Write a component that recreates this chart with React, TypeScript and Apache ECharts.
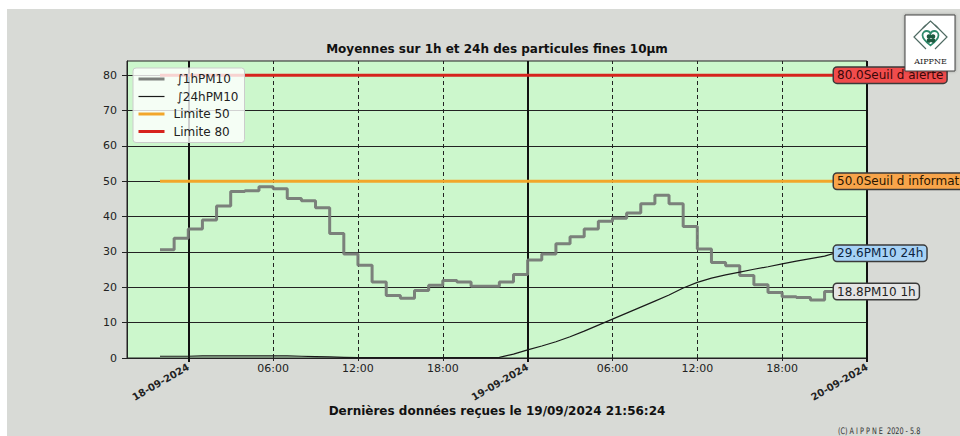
import React, { useEffect, useRef } from 'react';
import * as echarts from 'echarts';

const HOUR = 3600 * 1000;
const FIRST_HOUR = Date.UTC(2024, 8, 17, 22, 0);
const LAST_TIME = Date.UTC(2024, 8, 19, 21, 40);
const X_MIN = Date.UTC(2024, 8, 17, 19, 40);
const X_MAX = Date.UTC(2024, 8, 20, 0, 0);

const dayTicks = [Date.UTC(2024, 8, 18), Date.UTC(2024, 8, 19), Date.UTC(2024, 8, 20)];
const hourTicks = [
  Date.UTC(2024, 8, 18, 6), Date.UTC(2024, 8, 18, 12), Date.UTC(2024, 8, 18, 18),
  Date.UTC(2024, 8, 19, 6), Date.UTC(2024, 8, 19, 12), Date.UTC(2024, 8, 19, 18),
];
const yTicks = [0, 10, 20, 30, 40, 50, 60, 70, 80];

// hourly values from 17-09 22:00 to 19-09 21:00
const pm10_1h = [
  30.6, 33.9, 36.5, 39.0, 43.0, 47.1, 47.3, 48.4, 47.9, 45.1, 44.5, 42.5,
  35.2, 29.4, 26.2, 21.5, 17.7, 16.9, 19.1, 20.6, 21.9, 21.5, 20.3, 20.3,
  21.5, 23.6, 27.7, 29.4, 32.3, 34.3, 36.5, 38.7, 39.5, 41.0, 43.6, 46.0,
  43.6, 37.2, 30.8, 27.0, 26.1, 23.3, 20.7, 18.5, 17.3, 17.1, 16.4, 18.8,
];
const pm10_24h = [
  0.5, 0.5, 0.5, 0.6, 0.6, 0.6, 0.6, 0.6, 0.6, 0.6, 0.5, 0.4,
  0.3, 0.2, 0.1, 0.1, 0.1, 0.1, 0.1, 0.1, 0.1, 0.1, 0.1, 0.1,
  0.2, 1.1, 2.3, 3.4, 4.6, 6.0, 7.6, 9.3, 11.0, 12.7, 14.4, 16.1,
  17.8, 19.8, 21.4, 22.6, 23.5, 24.3, 25.1, 25.8, 26.6, 27.4, 28.1, 28.8,
];
const last1h = 18.8;
const last24h = 29.6;
const limitInfo = 50;
const limitAlert = 80;

const HEART_D =
  'M10 18 C 3 12.5, 0 9, 0 5.2 C 0 2, 2.6 0, 5.4 0 C 7.6 0, 9.2 1.4, 10 3.2 C 10.8 1.4, 12.4 0, 14.6 0 C 17.4 0, 20 2, 20 5.2 C 20 9, 17 12.5, 10 18 Z';
let heartRegistered = false;

const pad = (n: number) => (n < 10 ? '0' + n : '' + n);
const fmtHour = (v: number) => {
  const d = new Date(v);
  return pad(d.getUTCHours()) + ':' + pad(d.getUTCMinutes());
};
const fmtDay = (v: number) => {
  const d = new Date(v);
  return pad(d.getUTCDate()) + '-' + pad(d.getUTCMonth() + 1) + '-' + d.getUTCFullYear();
};

const FONT = 'DejaVu Sans';

function endLabel(text: string, bg: string, color: string) {
  return {
    show: true,
    position: 'right',
    distance: 0,
    formatter: text,
    fontFamily: FONT,
    fontSize: 12,
    color,
    backgroundColor: bg,
    borderColor: '#3a3a3a',
    borderWidth: 1.5,
    borderRadius: 3,
    padding: [2, 3, 1, 3],
  };
}

export default function App() {
  const ref = useRef<HTMLDivElement>(null);
  useEffect(() => {
    document.body.style.margin = '0';
    if (!heartRegistered) {
      echarts.graphic.registerShape('heart', echarts.graphic.extendPath(HEART_D, {}) as any);
      heartRegistered = true;
    }
    const chart = echarts.init(ref.current!, undefined, { renderer: 'svg' });
    const times = pm10_1h.map((_, i) => FIRST_HOUR + i * HOUR);
    const data1h: any[] = times.map((t, i) => [t, pm10_1h[i]]);
    data1h.push([LAST_TIME, last1h]);
    const data24h: any[] = times.map((t, i) => [t, pm10_24h[i]]);
    data24h.push([LAST_TIME, last24h]);

    const option: any = {
      animation: false,
      backgroundColor: '#ffffff',
      textStyle: { fontFamily: FONT },
      grid: {
        left: 127, top: 61, width: 740, height: 297,
        show: true, backgroundColor: '#ccf7cc', borderColor: '#222', borderWidth: 1,
      },
      legend: {
        orient: 'vertical',
        left: 133,
        top: 68,
        data: [
          { name: '∫1hPM10', lineStyle: { width: 3 } },
          { name: '∫24hPM10', lineStyle: { width: 1.2 } },
          { name: 'Limite 50', lineStyle: { width: 3 } },
          { name: 'Limite 80', lineStyle: { width: 3 } },
        ],
        backgroundColor: 'rgba(255,255,255,0.8)',
        borderColor: '#cccccc',
        borderWidth: 1,
        borderRadius: 3,
        padding: [5, 6, 5, 4],
        itemWidth: 26,
        itemHeight: 14,
        itemGap: 5.5,
        itemStyle: { opacity: 0 },
        lineStyle: { width: 'inherit' },
        formatter: (name: string) => (name.charAt(0) === '∫' ? '{i|' + name + '}' : '{t|' + name + '}'),
        textStyle: {
          fontSize: 12,
          color: '#222',
          rich: {
            t: { fontSize: 12, color: '#222', padding: [0, 0, 0, 4], fontFamily: FONT },
            i: { fontSize: 12, color: '#222', padding: [0, 0, 0, 7], fontFamily: FONT },
          },
        },
      },
      xAxis: [
        {
          type: 'value', min: X_MIN, max: X_MAX, position: 'bottom',
          axisLine: { show: true, lineStyle: { color: '#222' } },
          splitLine: { show: false },
          axisTick: { show: true, customValues: hourTicks, length: 3, lineStyle: { color: '#222' } },
          axisLabel: { customValues: hourTicks, formatter: fmtHour, fontSize: 11, color: '#222', margin: 5, fontFamily: FONT },
        },
        {
          type: 'value', min: X_MIN, max: X_MAX, position: 'bottom',
          axisLine: { show: false },
          splitLine: { show: false },
          axisTick: { show: true, customValues: dayTicks, length: 4, lineStyle: { color: '#111', width: 2 } },
          axisLabel: {
            customValues: dayTicks, formatter: fmtDay, rotate: 30, fontSize: 10,
            fontWeight: 'bold', color: '#222', margin: 8, fontFamily: FONT,
          },
        },
      ],
      yAxis: {
        type: 'value', min: 0, max: 84, interval: 10,
        axisLine: { show: true, lineStyle: { color: '#222' } },
        axisTick: { show: true, customValues: yTicks, length: 5, lineStyle: { color: '#222' } },
        axisLabel: { customValues: yTicks, fontSize: 11, color: '#222', margin: 10, fontFamily: FONT },
        splitLine: { show: true, lineStyle: { color: '#222', width: 1 } },
      },
      series: [
        {
          name: '∫1hPM10',
          type: 'line',
          step: 'end',
          data: data1h,
          symbol: 'none',
          color: '#767a76',
          lineStyle: { width: 3, color: '#767a76', opacity: 0.95 },
          z: 3,
          markPoint: {
            symbol: 'circle', symbolSize: 0, silent: true,
            data: [{ coord: [LAST_TIME, last1h] }],
            label: endLabel(last1h.toFixed(1) + 'PM10 1h', '#e4e4e4', '#222'),
          },
        },
        {
          name: '∫24hPM10',
          type: 'line',
          data: data24h,
          symbol: 'none',
          color: '#1a1a1a',
          lineStyle: { width: 1.2, color: '#1a1a1a' },
          z: 4,
          markLine: {
            silent: true,
            z: 1,
            symbol: ['none', 'none'],
            label: { show: false },
            data: [
              ...dayTicks.map((t) => ({ xAxis: t, lineStyle: { type: 'solid', width: 2, color: '#111' } })),
              ...hourTicks.map((t) => ({ xAxis: t, lineStyle: { type: [4, 3], width: 1, color: '#222' } })),
            ],
          },
          markPoint: {
            symbol: 'circle', symbolSize: 0, silent: true,
            data: [{ coord: [LAST_TIME, last24h] }],
            label: endLabel(last24h.toFixed(1) + 'PM10 24h', '#a6d2f6', '#0c2440'),
          },
        },
        {
          name: 'Limite 50',
          type: 'line',
          data: [[FIRST_HOUR, limitInfo], [X_MAX, limitInfo]],
          symbol: 'none',
          color: '#f2a62a',
          lineStyle: { width: 3, color: '#f2a62a' },
          z: 3,
          markPoint: {
            symbol: 'circle', symbolSize: 0, silent: true,
            data: [{ coord: [LAST_TIME, limitInfo] }],
            label: endLabel(limitInfo.toFixed(1) + 'Seuil d information', '#f8a44a', '#2a1600'),
          },
        },
        {
          name: 'Limite 80',
          type: 'line',
          data: [[FIRST_HOUR, limitAlert], [X_MAX, limitAlert]],
          symbol: 'none',
          color: '#d6231d',
          lineStyle: { width: 3, color: '#d6231d' },
          z: 3,
          markPoint: {
            symbol: 'circle', symbolSize: 0, silent: true,
            data: [{ coord: [LAST_TIME, limitAlert] }],
            label: endLabel(limitAlert.toFixed(1) + 'Seuil d alerte', '#f04c4c', '#3a0808'),
          },
        },
      ],
      graphic: [
        {
          type: 'rect', silent: true, z: -10,
          shape: { x: 7, y: 9, width: 953, height: 427 },
          style: { fill: '#d8dad6' },
        },
        {
          type: 'text', silent: true, z: 10, x: 497, y: 49,
          style: {
            text: 'Moyennes sur 1h et 24h des particules fines 10µm',
            fontFamily: FONT, fontSize: 12, fontWeight: 'bold', fill: '#111',
            align: 'center', verticalAlign: 'middle',
          },
        },
        {
          type: 'text', silent: true, z: 10, x: 497, y: 411,
          style: {
            text: 'Dernières données reçues le 19/09/2024 21:56:24',
            fontFamily: FONT, fontSize: 12, fontWeight: 'bold', fill: '#111',
            align: 'center', verticalAlign: 'middle',
          },
        },
        {
          type: 'text', silent: true, z: 10, x: 838, y: 427, scaleX: 0.72,
          style: {
            text: '(C) A I P P N E  2020 - 5.8',
            fontFamily: FONT, fontSize: 9, fill: '#333',
            align: 'left', verticalAlign: 'top',
          },
        },
        {
          type: 'group', z: 100, silent: true,
          children: [
            {
              type: 'rect', z: 100,
              shape: { x: 905, y: 15, width: 50, height: 56 },
              style: { fill: '#ffffff', stroke: '#444', lineWidth: 1, shadowBlur: 3, shadowColor: 'rgba(0,0,0,0.3)' },
            },
            {
              type: 'polyline', z: 101,
              shape: { points: [[926, 25], [914, 37], [926, 49]] },
              style: { stroke: '#4e6a62', lineWidth: 1.2, fill: 'none' },
            },
            {
              type: 'polyline', z: 101,
              shape: { points: [[935, 25], [947, 37], [935, 49]] },
              style: { stroke: '#4e6a62', lineWidth: 1.2, fill: 'none' },
            },
            {
              type: 'polyline', z: 101,
              shape: { points: [[923, 28], [930.5, 21], [938, 28]] },
              style: { stroke: '#4e6a62', lineWidth: 1.2, fill: 'none' },
            },
            {
              type: 'heart', z: 101, x: 922.5, y: 31, scaleX: 0.8, scaleY: 0.8,
              style: { fill: 'none', stroke: '#2e8a6c', lineWidth: 2.2 },
            },
            { type: 'circle', z: 102, shape: { cx: 929, cy: 36.5, r: 2.3 }, style: { fill: '#1d5a40' } },
            { type: 'circle', z: 102, shape: { cx: 933, cy: 36.5, r: 2.3 }, style: { fill: '#1d5a40' } },
            { type: 'circle', z: 102, shape: { cx: 929, cy: 40.5, r: 2.3 }, style: { fill: '#1d5a40' } },
            { type: 'circle', z: 102, shape: { cx: 933, cy: 40.5, r: 2.3 }, style: { fill: '#1d5a40' } },
            {
              type: 'text', z: 102, x: 930.5, y: 61,
              style: {
                text: 'AIPPNE', fontFamily: 'DejaVu Serif', fontSize: 8, fill: '#222',
                align: 'center', verticalAlign: 'middle',
              },
            },
          ],
        },
      ],
    };
    chart.setOption(option);
    return () => chart.dispose();
  }, []);
  return <div ref={ref} style={{ width: 960, height: 436 }} />;
}
